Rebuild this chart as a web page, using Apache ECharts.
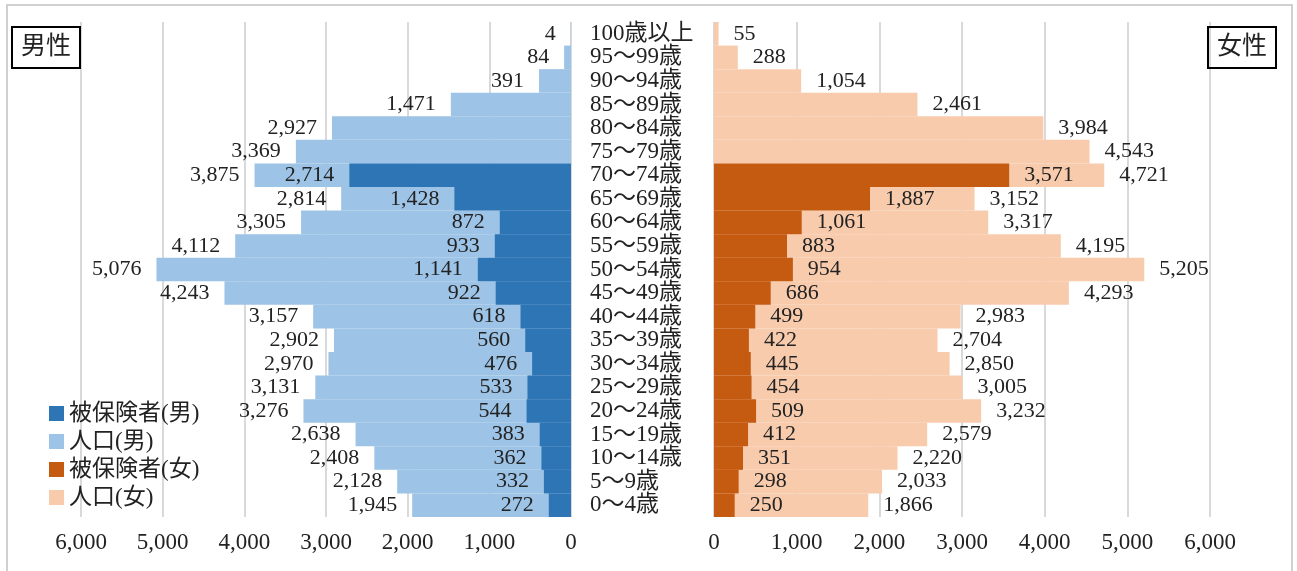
<!DOCTYPE html>
<html><head><meta charset="utf-8">
<script src="https://cdn.jsdelivr.net/npm/echarts@6/dist/echarts.min.js"></script>
<style>html,body{margin:0;padding:0;background:#fff}#c{width:1297px;height:571px}</style>
</head><body><div id="c"></div>
<script>
const categories = ['100歳以上','95～99歳','90～94歳','85～89歳','80～84歳','75～79歳','70～74歳','65～69歳','60～64歳','55～59歳','50～54歳','45～49歳','40～44歳','35～39歳','30～34歳','25～29歳','20～24歳','15～19歳','10～14歳','5～9歳','0～4歳'];
const malePop = [4,84,391,1471,2927,3369,3875,2814,3305,4112,5076,4243,3157,2902,2970,3131,3276,2638,2408,2128,1945];
const maleIns = [null,null,null,null,null,null,2714,1428,872,933,1141,922,618,560,476,533,544,383,362,332,272];
const femalePop = [55,288,1054,2461,3984,4543,4721,3152,3317,4195,5205,4293,2983,2704,2850,3005,3232,2579,2220,2033,1866];
const femaleIns = [null,null,null,null,null,null,3571,1887,1061,883,954,686,499,422,445,454,509,412,351,298,250];
const seriesNames = ['被保険者(男)','人口(男)','被保険者(女)','人口(女)'];
const axisMax = 6000, axisStep = 1000;

const FONT = '"Liberation Serif", "Noto Sans CJK JP", serif';
const fmt = v => String(v).replace(/\B(?=(\d{3})+(?!\d))/g, ',');
const lbl = pos => ({show:true, position:pos, distance:15, color:'#222', fontSize:22, fontFamily:FONT,
  formatter: p => p.value == null ? '' : fmt(p.value)});

const chart = echarts.init(document.getElementById('c'));
chart.setOption({
  animation:false,
  textStyle:{fontFamily:FONT},
  graphic:[{type:'rect', shape:{x:7,y:5,width:1285,height:600}, style:{fill:'none', stroke:'#d0d0d0', lineWidth:2}, silent:true}],
  title:[
    {text:'男性', left:12, top:27, padding:[8,9,8,9], borderColor:'#000', borderWidth:2, textStyle:{fontSize:25, fontWeight:'normal', color:'#222', fontFamily:FONT}},
    {text:'女性', left:1208, top:27, padding:[8,9,8,9], borderColor:'#000', borderWidth:2, textStyle:{fontSize:25, fontWeight:'normal', color:'#222', fontFamily:FONT}}
  ],
  legend:{orient:'vertical', left:44, top:397, itemWidth:15, itemHeight:15, itemGap:5, icon:'rect',
    selectedMode:false, data:seriesNames, textStyle:{fontSize:23, color:'#222', fontFamily:FONT}},
  grid:[
    {left:81, right:726, top:22, bottom:54},
    {left:714, right:87, top:22, bottom:54}
  ],
  xAxis:[
    {gridIndex:0, type:'value', min:0, max:axisMax, interval:axisStep, inverse:true,
     axisLine:{show:false}, axisTick:{show:false},
     axisLabel:{fontSize:23, color:'#222', margin:14, fontFamily:FONT, formatter:v=>fmt(v)},
     splitLine:{lineStyle:{color:'#d9d9d9', width:2}}},
    {gridIndex:1, type:'value', min:0, max:axisMax, interval:axisStep,
     axisLine:{show:false}, axisTick:{show:false},
     axisLabel:{fontSize:23, color:'#222', margin:14, fontFamily:FONT, formatter:v=>fmt(v)},
     splitLine:{lineStyle:{color:'#d9d9d9', width:2}}}
  ],
  yAxis:[
    {gridIndex:0, type:'category', data:categories, inverse:true, position:'right',
     axisLine:{show:false, onZero:false}, axisTick:{show:false},
     axisLabel:{interval:0, align:'left', margin:19, fontSize:23, color:'#222', fontFamily:FONT}},
    {gridIndex:1, type:'category', data:categories, inverse:true,
     axisLine:{show:false, onZero:false}, axisTick:{show:false}, axisLabel:{show:false}}
  ],
  series:[
    {name:seriesNames[1], type:'bar', xAxisIndex:0, yAxisIndex:0, data:malePop, barGap:'-100%', barCategoryGap:0,
     itemStyle:{color:'#9dc3e6'}, label:lbl('left')},
    {name:seriesNames[0], type:'bar', xAxisIndex:0, yAxisIndex:0, data:maleIns, barGap:'-100%', barCategoryGap:0,
     itemStyle:{color:'#2e75b6'}, label:lbl('left')},
    {name:seriesNames[3], type:'bar', xAxisIndex:1, yAxisIndex:1, data:femalePop, barGap:'-100%', barCategoryGap:0,
     itemStyle:{color:'#f8cbad'}, label:lbl('right')},
    {name:seriesNames[2], type:'bar', xAxisIndex:1, yAxisIndex:1, data:femaleIns, barGap:'-100%', barCategoryGap:0,
     itemStyle:{color:'#c55a11'}, label:lbl('right')}
  ]
});
</script></body></html>
